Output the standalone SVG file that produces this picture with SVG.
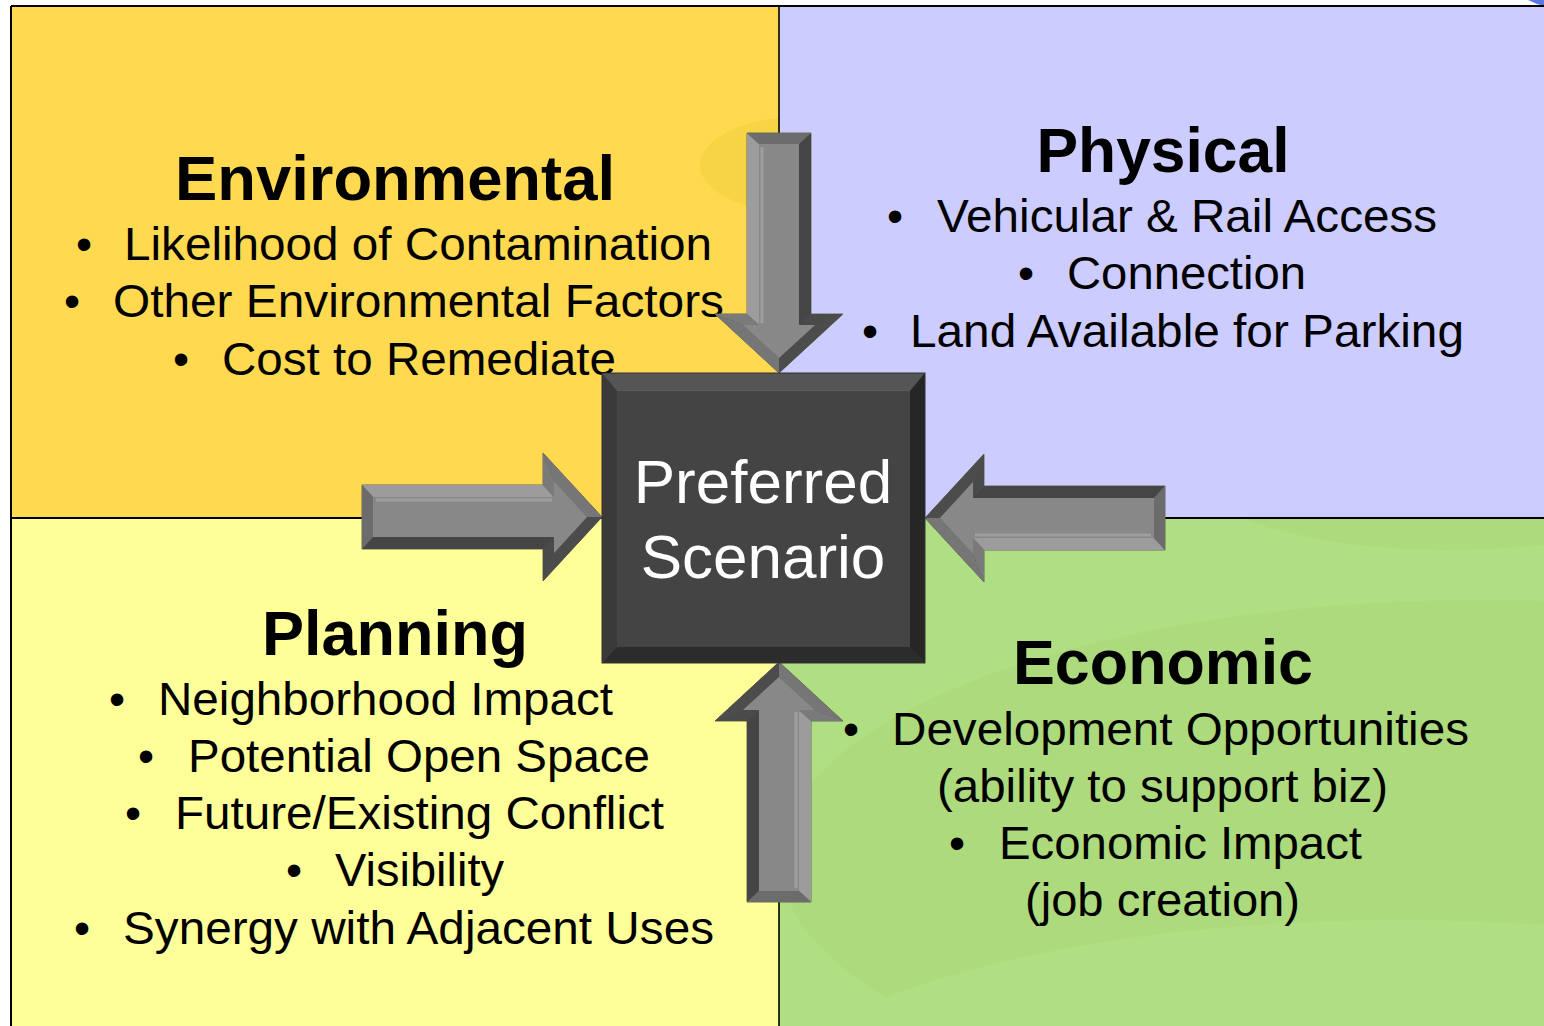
<svg xmlns="http://www.w3.org/2000/svg" xmlns:xlink="http://www.w3.org/1999/xlink" width="1544" height="1026" viewBox="0 0 1544 1026">
<style>
.title{font-family:"Liberation Sans",Arial,sans-serif;font-weight:bold;font-size:63px;fill:#000;text-anchor:middle}
.item{font-family:"Liberation Sans",Arial,sans-serif;font-size:46px;fill:#000}
.bul{font-family:"Liberation Sans",Arial,sans-serif;font-size:46px;fill:#000;text-anchor:middle}
.center{font-family:"Liberation Sans",Arial,sans-serif;font-size:62px;fill:#fff;text-anchor:middle}
.div{stroke:#000;fill:none}
</style>
<defs>
<clipPath id="cTL"><rect x="12" y="7" width="767" height="511"/></clipPath>
<clipPath id="cBR"><rect x="779" y="518" width="765" height="508"/></clipPath>
<g id="arrow">
<polygon points="0,-32 181,-32 181,-64 240,0 181,64 181,32 0,32" fill="#5e5e5e" stroke="#6b6b55" stroke-width="1"/>
<polygon points="0,-32 181,-32 192,-20 11,-20" fill="#9c9c9c"/>
<polygon points="181,-32 181,-64 192,-36 192,-20" fill="#7a7a7a"/>
<polygon points="181,-64 240,0 225,0 192,-36" fill="#767676"/>
<polygon points="240,0 181,64 192,36 225,0" fill="#4c4c4c"/>
<polygon points="181,64 181,32 192,20 192,36" fill="#4a4a4a"/>
<polygon points="181,32 0,32 11,20 192,20" fill="#454545"/>
<polygon points="0,32 0,-32 11,-20 11,20" fill="#6c6c6c"/>
<polygon points="11,-20 192,-20 192,-36 225,0 192,36 192,20 11,20" fill="#888888"/>
<line x1="14" y1="-17" x2="190" y2="-17" stroke="#a8a8a8" stroke-width="3" opacity="0.7"/>
</g>
</defs>

<g id="background">
<rect x="12" y="7" width="767" height="511" fill="#FFD94F"/>
<rect x="779" y="7" width="765" height="511" fill="#CCCCFF"/>
<rect x="12" y="518" width="767" height="508" fill="#FFFF99"/>
<rect x="779" y="518" width="765" height="508" fill="#B0DE82"/>
<g clip-path="url(#cTL)">
<ellipse cx="800" cy="165" rx="100" ry="48" fill="#F7D443"/>
</g>
<g clip-path="url(#cBR)">
<ellipse cx="1450" cy="470" rx="260" ry="80" fill="#ACD87B" opacity="0.8"/>
<ellipse cx="1480" cy="860" rx="700" ry="260" fill="#ACD87B" opacity="0.7"/>
<ellipse cx="1400" cy="1120" rx="650" ry="200" fill="#B0DE82"/>
</g>
<path d="M1528,0 L1544,0 L1544,6 Q1536,4 1528,0 Z" fill="#3355dd" opacity="0.8"/>
<line class="div" x1="11" y1="6" x2="1544" y2="6" stroke-width="2"/>
<line class="div" x1="11" y1="6" x2="11" y2="1026" stroke-width="2"/>
<line class="div" x1="779" y1="6" x2="779" y2="1026" stroke-width="1.6"/>
<line class="div" x1="11" y1="518" x2="1544" y2="518" stroke-width="2"/>
</g>

<g id="node-environmental">
<text class="title" x="395" y="200" textLength="440" lengthAdjust="spacingAndGlyphs">Environmental</text>
<text class="bul" x="84" y="260">•</text>
<text class="item" x="124" y="260" textLength="588" lengthAdjust="spacingAndGlyphs">Likelihood of Contamination</text>
<text class="bul" x="72" y="317">•</text>
<text class="item" x="113" y="317" textLength="611" lengthAdjust="spacingAndGlyphs">Other Environmental Factors</text>
<text class="bul" x="181" y="375">•</text>
<text class="item" x="222" y="375" textLength="394" lengthAdjust="spacingAndGlyphs">Cost to Remediate</text>
</g>

<g id="node-physical">
<text class="title" x="1163" y="172" textLength="253" lengthAdjust="spacingAndGlyphs">Physical</text>
<text class="bul" x="895" y="232">•</text>
<text class="item" x="937" y="232" textLength="500" lengthAdjust="spacingAndGlyphs">Vehicular &amp; Rail Access</text>
<text class="bul" x="1026" y="289">•</text>
<text class="item" x="1067" y="289" textLength="239" lengthAdjust="spacingAndGlyphs">Connection</text>
<text class="bul" x="870" y="347">•</text>
<text class="item" x="910" y="347" textLength="554" lengthAdjust="spacingAndGlyphs">Land Available for Parking</text>
</g>

<g id="node-planning">
<text class="title" x="395" y="655" textLength="266" lengthAdjust="spacingAndGlyphs">Planning</text>
<text class="bul" x="117" y="715">•</text>
<text class="item" x="158" y="715" textLength="455" lengthAdjust="spacingAndGlyphs">Neighborhood Impact</text>
<text class="bul" x="146" y="772">•</text>
<text class="item" x="188" y="772" textLength="462" lengthAdjust="spacingAndGlyphs">Potential Open Space</text>
<text class="bul" x="133" y="829">•</text>
<text class="item" x="175" y="829" textLength="489" lengthAdjust="spacingAndGlyphs">Future/Existing Conflict</text>
<text class="bul" x="294" y="886">•</text>
<text class="item" x="335" y="886" textLength="169" lengthAdjust="spacingAndGlyphs">Visibility</text>
<text class="bul" x="82" y="944">•</text>
<text class="item" x="123" y="944" textLength="591" lengthAdjust="spacingAndGlyphs">Synergy with Adjacent Uses</text>
</g>

<g id="node-economic">
<text class="title" x="1163" y="684" textLength="300" lengthAdjust="spacingAndGlyphs">Economic</text>
<text class="bul" x="851" y="745">•</text>
<text class="item" x="892" y="745" textLength="577" lengthAdjust="spacingAndGlyphs">Development Opportunities</text>
<text class="item" x="937" y="802" textLength="451" lengthAdjust="spacingAndGlyphs">(ability to support biz)</text>
<text class="bul" x="957" y="859">•</text>
<text class="item" x="999" y="859" textLength="363" lengthAdjust="spacingAndGlyphs">Economic Impact</text>
<text class="item" x="1025" y="916" textLength="275" lengthAdjust="spacingAndGlyphs">(job creation)</text>
</g>

<g id="connectors">
<use xlink:href="#arrow" transform="translate(779,133) rotate(90) scale(1,-1)"/>
<use xlink:href="#arrow" transform="translate(362,517)"/>
<use xlink:href="#arrow" transform="translate(1165,518) rotate(180)"/>
<use xlink:href="#arrow" transform="translate(779,902) rotate(-90) scale(1,-1)"/>
</g>

<g id="node-preferred">
<rect x="602" y="373" width="323" height="290" fill="#444444"/>
<polygon points="602,373 925,373 910,391 617,391" fill="#555555"/>
<polygon points="925,373 925,663 910,647 910,391" fill="#262626"/>
<polygon points="925,663 602,663 617,647 910,647" fill="#2c2c2c"/>
<polygon points="602,663 602,373 617,391 617,647" fill="#3a3a3a"/>
<line x1="617" y1="391" x2="910" y2="391" stroke="#5e5e5e" stroke-width="1.5"/>
<rect x="617" y="391" width="293" height="256" fill="#444444"/>
<rect x="602" y="373" width="323" height="290" fill="none" stroke="#333" stroke-width="1"/>
<text class="center" x="763" y="503">Preferred</text>
<text class="center" x="763" y="578">Scenario</text>
</g>
</svg>
